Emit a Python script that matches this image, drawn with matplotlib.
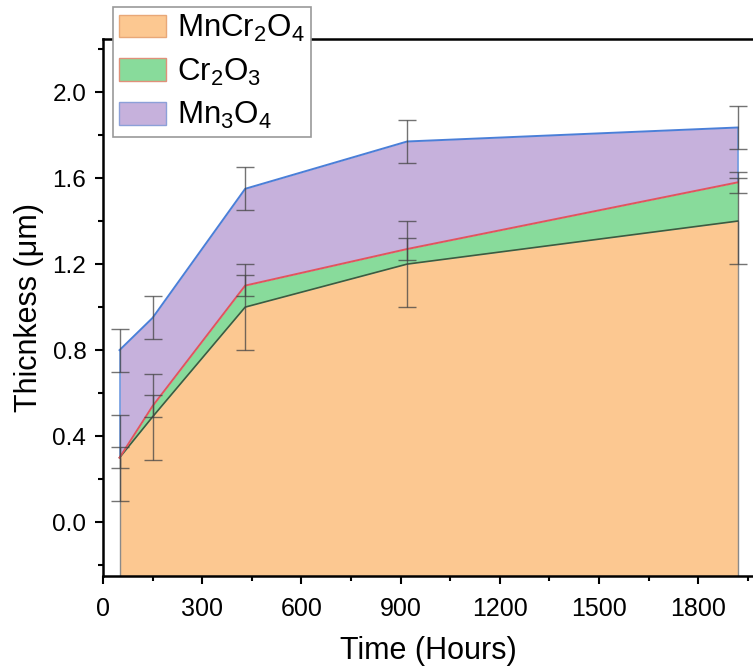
import matplotlib
matplotlib.use("Agg")
import matplotlib.pyplot as plt
from matplotlib.patches import Patch
import numpy as np

# ---- data (cumulative tops of stacked layers) ----
time_h = [50, 150, 430, 920, 1920]
mncr2o4_top = [0.30, 0.49, 1.00, 1.20, 1.40]
cr2o3_top = [0.30, 0.54, 1.10, 1.27, 1.58]
mn3o4_top = [0.80, 0.95, 1.55, 1.77, 1.835]
mncr2o4_err = [0.20, 0.20, 0.20, 0.20, 0.20]
cr2o3_err = [0.05, 0.05, 0.05, 0.05, 0.05]
mn3o4_err = [0.10, 0.10, 0.10, 0.10, 0.10]
labels = ["MnCr$_2$O$_4$", "Cr$_2$O$_3$", "Mn$_3$O$_4$"]
xticks = [0, 300, 600, 900, 1200, 1500, 1800]
yticks = [0.0, 0.4, 0.8, 1.2, 1.6, 2.0]

plt.rcParams["font.family"] = ["Liberation Sans", "DejaVu Sans"]
plt.rcParams["mathtext.fontset"] = "custom"
plt.rcParams["mathtext.rm"] = "Liberation Sans"
plt.rcParams["mathtext.it"] = "Liberation Sans"
plt.rcParams["mathtext.default"] = "regular"

c_orange = "#FCC891"
c_green = "#88DB9B"
c_purple = "#C6B1DC"
c_blue = "#4A7FD8"
c_red = "#E2545E"
c_dark = "#3E5A40"

W, H = 753, 669
fig = plt.figure(figsize=(W / 100, H / 100), dpi=100)
ax_left, ax_right = 103, 753
ax_top, ax_bot = 39.3, 576
ax = fig.add_axes([ax_left / W, (H - ax_bot) / H, (ax_right - ax_left) / W, (ax_bot - ax_top) / H])

ymin, ymax = -0.25, 2.245
xmax = 1966
ax.set_xlim(0, xmax)
ax.set_ylim(ymin, ymax)

x = np.array(time_h)
a = np.array(mncr2o4_top)
b = np.array(cr2o3_top)
c = np.array(mn3o4_top)

ax.fill_between(x, ymin, a, color=c_orange, linewidth=0, zorder=1)
ax.fill_between(x, a, b, color=c_green, linewidth=0, zorder=1)
ax.fill_between(x, b, c, color=c_purple, linewidth=0, zorder=1)

# edges
ax.plot(x, a, color=c_dark, lw=1.2, zorder=3)
ax.plot(x, b, color=c_red, lw=1.4, zorder=3)
ax.plot(x, c, color=c_blue, lw=1.4, zorder=3)
ax.vlines([x[0], x[-1]], ymin, [a[0], a[-1]], color="#8a8a8a", lw=1.0, zorder=2)
ax.vlines([x[0], x[-1]], [b[0], b[-1]], [c[0], c[-1]], color="#6f9be0", lw=1.2, zorder=2)

# error bars
for top, err in [(a, mncr2o4_err), (b, cr2o3_err), (c, mn3o4_err)]:
    ax.errorbar(x, top, yerr=err, fmt="none", ecolor="#444444", elinewidth=1.0,
                capsize=6.5, capthick=1.0, alpha=0.75, zorder=4)

ax.set_xticks(xticks)
ax.set_yticks(yticks)
ax.set_yticklabels([f"{v:.1f}" for v in yticks])
ax.set_xticks(np.arange(150, xmax, 300), minor=True)
ax.set_yticks(np.arange(-0.2, 2.3, 0.4), minor=True)
ax.tick_params(which="major", direction="out", length=6, width=1.5, labelsize=17.5, pad=6, colors="black")
ax.tick_params(which="minor", direction="out", length=3.5, width=1.5)
ax.tick_params(axis="x", which="major", labelsize=18, pad=9)

for s in ["left", "bottom", "top"]:
    ax.spines[s].set_linewidth(1.8)
ax.spines["right"].set_visible(False)

ax.set_xlabel("Time (Hours)", fontsize=22, labelpad=11)
ax.set_ylabel("Thicnkess (\u03bcm)", fontsize=22, labelpad=6)

handles = [
    Patch(facecolor=c_orange, edgecolor="#E8A878", lw=1.0),
    Patch(facecolor=c_green, edgecolor="#E0907A", lw=1.0),
    Patch(facecolor=c_purple, edgecolor="#8CA0D8", lw=1.0),
]
leg = ax.legend(handles, labels, loc="upper left", bbox_to_anchor=(0.015, 1.060),
                borderaxespad=0, fontsize=22.5, frameon=True, fancybox=False,
                edgecolor="#999999", framealpha=1, handlelength=1.52, handleheight=0.74,
                labelspacing=0.4, handletextpad=0.35, borderpad=0.19)
leg.get_frame().set_linewidth(1.2)
leg.set_zorder(10)

fig.savefig("out.png", dpi=100)
